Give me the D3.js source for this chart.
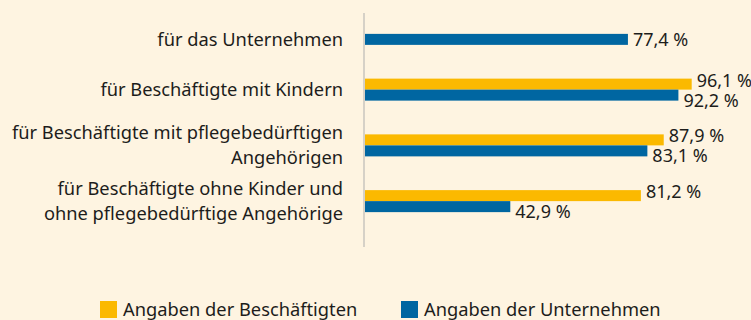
<!DOCTYPE html>
<html>
<head>
<meta charset="utf-8">
<script src="https://cdn.jsdelivr.net/npm/d3@7"></script>
<style>
  html, body { margin: 0; padding: 0; background: #fef4e1; }
  svg { display: block; }
  text { font-family: "Noto Sans", "Open Sans", sans-serif; fill: #1d1d1b; }
</style>
</head>
<body>
<svg id="chart" width="751" height="320"></svg>
<script>
// Kategorien (Zeilenumbruch mit \n)
const categories = [
  "für das Unternehmen",
  "für Beschäftigte mit Kindern",
  "für Beschäftigte mit pflegebedürftigen\nAngehörigen",
  "für Beschäftigte ohne Kinder und\nohne pflegebedürftige Angehörige"
];
// Angaben der Beschäftigten (null = keine Angabe)
const beschaeftigte = [null, 96.1, 87.9, 81.2];
// Angaben der Unternehmen
const unternehmen = [77.4, 92.2, 83.1, 42.9];
const seriesNames = ["Angaben der Beschäftigten", "Angaben der Unternehmen"];
const colors = ["#fbb900", "#0066a1"];

const svg = d3.select("#chart");
const W = 751, H = 320;
svg.append("rect").attr("width", W).attr("height", H).attr("fill", "#fef4e1");

const x = d3.scaleLinear().domain([0, 100]).range([364, 705]);
const y = d3.scaleBand().domain(categories).range([6, 229]).padding(0);
const barH = 11;
const fmt = v => d3.format(".1f")(v).replace(".", ",") + " %";

// Achsenlinie
svg.append("line")
  .attr("x1", x(0)).attr("x2", x(0))
  .attr("y1", y.range()[0] + 7).attr("y2", y.range()[1] + 18)
  .attr("stroke", "#d6d1c7").attr("stroke-width", 2);

const rows = categories.map((c, i) => ({
  cat: c,
  vals: [beschaeftigte[i], unternehmen[i]]
}));

const g = svg.selectAll("g.row").data(rows).join("g").attr("class", "row");

g.each(function(d) {
  const row = d3.select(this);
  const center = y(d.cat) + y.bandwidth() / 2;
  const paired = d.vals[0] != null && d.vals[1] != null;
  d.vals.forEach((v, s) => {
    if (v == null) return;
    const top = s === 0 ? center - barH : center;
    row.append("rect")
      .attr("x", x(0) + 1)
      .attr("y", top)
      .attr("width", x(v) - x(0) - 1)
      .attr("height", barH)
      .attr("fill", colors[s]);
    const shift = paired ? (s === 0 ? -4 : 5) : 0;
    row.append("text")
      .attr("x", x(v) + 5)
      .attr("y", top + barH / 2 + shift)
      .attr("dy", "0.36em")
      .attr("font-size", 18)
      .text(fmt(v));
  });

  // Beschriftung links, zentriert auf die gezeichneten Balken
  const drawn = d.vals.map((v, s) => v == null ? null : (s === 0 ? center - barH / 2 : center + barH / 2)).filter(v => v != null);
  const mid = d3.mean(drawn);
  const lines = d.cat.split("\n");
  const lh = 25;
  const t = row.append("text")
    .attr("text-anchor", "end")
    .attr("font-size", 18.3);
  lines.forEach((ln, k) => {
    t.append("tspan")
      .attr("x", 343)
      .attr("y", mid + (k - (lines.length - 1) / 2) * lh)
      .attr("dy", "0.36em")
      .text(ln);
  });
});

// Legende
const legendX = [100, 401];
const lg = svg.selectAll("g.legend").data(seriesNames).join("g").attr("class", "legend")
  .attr("transform", (d, i) => `translate(${legendX[i]},301)`);
lg.append("rect").attr("width", 17).attr("height", 17).attr("fill", (d, i) => colors[i]);
lg.append("text").attr("x", 23).attr("y", 15).attr("font-size", 18.3).text(d => d);
</script>
</body>
</html>
